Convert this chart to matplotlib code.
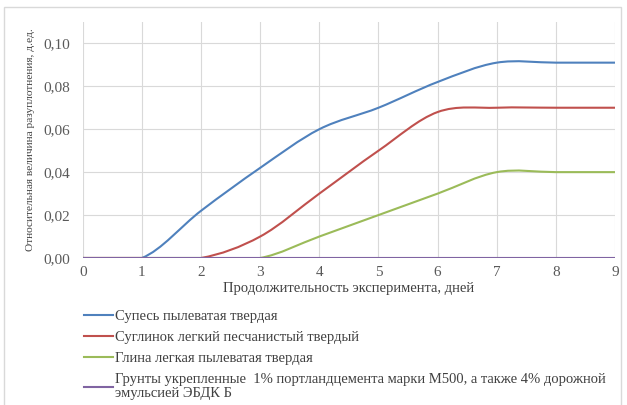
import numpy as np
import matplotlib.pyplot as plt
from matplotlib.path import Path
from matplotlib.patches import PathPatch, Rectangle
from matplotlib.lines import Line2D
from matplotlib.ticker import FuncFormatter

plt.rcParams['font.family'] = ['Liberation Serif', 'DejaVu Serif']

days = [0, 1, 2, 3, 4, 5, 6, 7, 8, 9]

# values
supes = [0.0, 0.0, 0.022, 0.042, 0.060, 0.070, 0.082, 0.091, 0.091, 0.091]
suglinok = [0.0, 0.0, 0.0, 0.010, 0.030, 0.050, 0.068, 0.070, 0.070, 0.070]
glina = [0.0, 0.0, 0.0, 0.0, 0.010, 0.020, 0.030, 0.040, 0.040, 0.040]
grunty = [0.0, 0.0, 0.0, 0.0, 0.0, 0.0, 0.0, 0.0, 0.0, 0.0]

labels = [
    'Супесь пылеватая твердая',
    'Суглинок легкий песчанистый твердый',
    'Глина легкая пылеватая твердая',
    'Грунты укрепленные  1% портландцемента марки М500, а также 4% дорожной\nэмульсией ЭБДК Б',
]
colors = ['#4F81BD', '#C0504D', '#9BBB59', '#8064A2']


def smooth_path(x, y):
    # Excel-style smoothed line: cubic bezier through the data points
    pts = np.column_stack([x, y]).astype(float)
    ext = np.vstack([pts[0], pts, pts[-1]])
    verts = [pts[0]]
    codes = [Path.MOVETO]
    for i in range(len(pts) - 1):
        p0, p1, p2, p3 = ext[i], ext[i + 1], ext[i + 2], ext[i + 3]
        verts += [p1 + (p2 - p0) / 6, p2 - (p3 - p1) / 6, p2]
        codes += [Path.CURVE4] * 3
    return Path(verts, codes)


fig = plt.figure(figsize=(6.27, 4.05), dpi=100)
ax = fig.add_axes([0.132, 0.363, 0.849, 0.583])

for series, c in zip([supes, suglinok, glina, grunty], colors):
    ax.add_patch(PathPatch(smooth_path(days, series), facecolor='none',
                           edgecolor=c, linewidth=1.5, zorder=3))

ax.set_xlim(0, 9)
ax.set_ylim(0, 0.11)
ax.set_xticks(days)
ax.set_yticks([0, 0.02, 0.04, 0.06, 0.08, 0.10])
ax.yaxis.set_major_formatter(FuncFormatter(lambda v, p: f'{v:.2f}'.replace('.', ',')))
ax.grid(True, color='#D9D9D9', linewidth=0.8)
ax.set_axisbelow(True)
for s in ax.spines.values():
    s.set_visible(False)
ax.tick_params(length=0, labelsize=11, colors='#595959')
ax.tick_params(axis='y', pad=9)
ax.tick_params(axis='x', pad=6)

ax.set_xlabel('Продолжительность эксперимента, дней', fontsize=10.5, color='#404040', labelpad=2)
ax.set_ylabel('Относительная величина разуплотнения, д.ед.', fontsize=8.2, color='#404040', labelpad=6)

handles = [Line2D([], [], color=c, linewidth=1.5) for c in colors]
leg = fig.legend(handles, labels, loc='upper left', bbox_to_anchor=(0.125, 0.25),
                 frameon=False, fontsize=10.5, labelcolor='#404040',
                 handlelength=2.0, handletextpad=0.1, labelspacing=0.55, borderaxespad=0)
for t in leg.get_texts():
    t.set_linespacing(1.1)

fig.patches.append(Rectangle((0.006, -0.02), 0.985, 1.003, transform=fig.transFigure,
                             fill=False, edgecolor='#D9D9D9', linewidth=1))

fig.savefig('out.png', dpi=100)
